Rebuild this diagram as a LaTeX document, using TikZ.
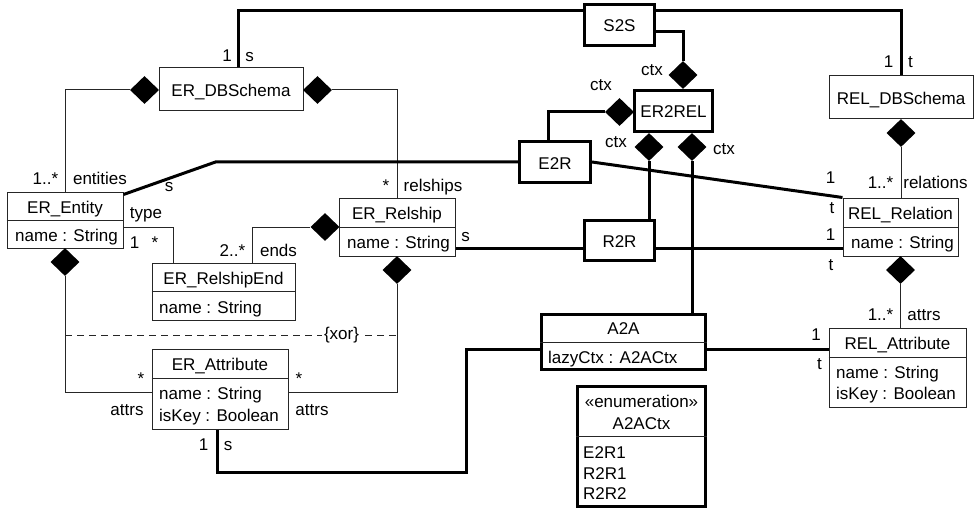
\documentclass[tikz,border=0pt]{standalone}
\usepackage{fontspec}
\setmainfont{Liberation Sans}
\usetikzlibrary{shapes.geometric}
\begin{document}
\begin{tikzpicture}[x=1pt,y=-1pt,
  every node/.style={font=\fontsize{17}{20}\selectfont},
  thin line/.style={draw=black!85, line width=1pt},
  thick line/.style={draw=black, line width=3pt},
  cls/.style={thin line, rectangle, inner sep=0pt, text height=14pt, text depth=0pt},
  trafo/.style={thick line, rectangle, inner sep=0pt, text height=14pt, text depth=0pt},
  comp/.style={diamond, fill=black, draw=none, inner sep=0pt, minimum width=29pt, minimum height=28pt},
  lbl/.style={inner sep=0pt, anchor=base},
  row/.style={inner sep=0pt, text height=14pt, text depth=0pt},
  attr/.style={inner sep=0pt, anchor=base west},
  conn/.style={thin line},
  tconn/.style={thick line},
]
\useasboundingbox (0,0) rectangle (976,513);

% ---------- ER metamodel classes ----------
\node[cls, minimum width=144pt, minimum height=43pt] (erdb) at (231,89.5) {ER\_DBSchema};
\node[cls, minimum width=116pt, minimum height=56pt] (erent) at (65,220) {};
\node[cls, minimum width=143pt, minimum height=57pt] (relend) at (223.5,291.5) {};
\node[cls, minimum width=116pt, minimum height=58pt] (relship) at (397,227) {};
\node[cls, minimum width=136pt, minimum height=80pt] (erattr) at (220,389) {};

% ---------- REL metamodel classes ----------
\node[cls, minimum width=144pt, minimum height=43pt] (reldb) at (901,97.5) {REL\_DBSchema};
\node[cls, minimum width=115pt, minimum height=58pt] (relrel) at (900.5,227) {};
\node[cls, minimum width=137pt, minimum height=79pt] (relattr) at (897.5,367.5) {};

% ---------- transformation classes ----------
\node[trafo, minimum width=70pt, minimum height=41pt] (s2s) at (619.5,25) {S2S};
\node[trafo, minimum width=78pt, minimum height=41pt] (er2rel) at (673.5,111) {ER2REL};
\node[trafo, minimum width=71pt, minimum height=41pt] (e2r) at (555,162) {E2R};
\node[trafo, minimum width=70pt, minimum height=40pt] (r2r) at (619.5,240.5) {R2R};
\node[trafo, minimum width=164pt, minimum height=55pt] (a2a) at (623.5,342) {};
\node[trafo, minimum width=128pt, minimum height=120pt] (enum) at (641.5,446.5) {};

% ---------- compartment dividers ----------
\draw[conn] (erent.west) -- (erent.east);
\draw[conn] (relend.west) -- (relend.east);
\draw[conn] (relship.west) -- (relship.east);
\draw[conn] ([yshift=11pt]erattr.west) -- ([yshift=11pt]erattr.east);
\draw[conn] (relrel.west) -- (relrel.east);
\draw[conn] ([yshift=10.5pt]relattr.west) -- ([yshift=10.5pt]relattr.east);
\draw[conn] (a2a.west) -- (a2a.east);
\draw[conn] ([yshift=10.5pt]enum.west) -- ([yshift=10.5pt]enum.east);

% ---------- class names and attributes ----------
\node[row] (erentT) at (65,206) {ER\_Entity};
\node[row, anchor=west] (erentA) at (15,234) {name : String};
\node[row] (relendT) at (223.5,277.5) {ER\_RelshipEnd};
\node[row, anchor=west] (relendA) at (159,306) {name : String};
\node[row] (relshipT) at (397,212.5) {ER\_Relship};
\node[row, anchor=west] (relshipA) at (347,241.5) {name : String};
\node[row] (erattrT) at (220,363.5) {ER\_Attribute};
\node[attr] (erattrA) at (159,399.5) {name : String};
\node[attr] (erattrB) at (159,421) {isKey : Boolean};
\node[row] (relrelT) at (900.5,212.5) {REL\_Relation};
\node[row, anchor=west] (relrelA) at (851,241.5) {name : String};
\node[row] (relattrT) at (897.5,342.5) {REL\_Attribute};
\node[attr] (relattrA) at (836,378) {name : String};
\node[attr] (relattrB) at (836,399) {isKey : Boolean};
\node[row] (a2aT) at (623.5,327.5) {A2A};
\node[row, anchor=west] (a2aA) at (548,356.5) {lazyCtx : A2ACtx};
\node[lbl] (enumS) at (641.5,407) {«enumeration»};
\node[lbl] (enumT) at (641.5,429) {A2ACtx};
\node[attr] (enumA) at (583,458.5) {E2R1};
\node[attr] (enumB) at (583,479) {R2R1};
\node[attr] (enumC) at (583,499) {R2R2};

% ---------- composition diamonds ----------
\node[comp] (dEL) at (144.5,90) {};
\node[comp] (dER) at (317.5,90) {};
\node[comp] (dRL) at (325,227) {};
\node[comp] (dEB) at (65,262) {};
\node[comp] (dSB) at (397,270) {};
\node[comp] (dRD) at (901,133) {};
\node[comp] (dRB) at (900.5,270) {};
\node[comp] (dT) at (683,75) {};
\node[comp] (dL) at (619.5,112) {};
\node[comp] (dB1) at (649,147) {};
\node[comp] (dB2) at (692,147) {};

% ---------- ER / REL associations ----------
\draw[conn] (dEL.west) -| (erent.north);
\draw[conn] (dER.east) -| (relship.north);
\draw[conn] (dRD.south) -- (dRD.south |- relrel.north);
\draw[conn] ([yshift=-7pt]erent.east) -| ([xshift=-50.5pt]relend.north);
\draw[conn] ([xshift=28.5pt]relend.north) |- (dRL.west);
\draw[conn] (dEB.south) |- ([yshift=-3pt]erattr.west);
\draw[conn] (dSB.south) |- ([yshift=-3pt]erattr.east);
\draw[conn] (dRB.south) -- (dRB.south |- relattr.north);
\coordinate (xorL) at (65,335);
\coordinate (xorR) at (397,335);
\draw[conn, dash pattern=on 7pt off 5pt] (xorL) -- (xorR);
\node[lbl, fill=white, inner sep=2pt] (xor) at (341.5,339.5) {\{xor\}};

% ---------- transformation links ----------
\draw[tconn] ([xshift=7pt]erdb.north) |- ([yshift=14pt]s2s.west);
\draw[tconn] ([yshift=14pt]s2s.east) -| (reldb.north);
\draw[tconn] ([yshift=-7pt]s2s.east) -| (dT.north);
\draw[tconn] (dL.west) -| ([xshift=-7pt]e2r.north);
\draw[tconn] (dB1.south) -- (dB1.south |- r2r.north);
\draw[tconn] (dB2.south) -- (dB2.south |- a2a.north);
\draw[tconn] (e2r.west) -- ++(-302.5,0) -- ([yshift=-3pt]erent.north east);
\draw[tconn] (e2r.east) -- (relrel.north west);
\draw[tconn] ([yshift=-8pt]r2r.west) -- ([yshift=-8pt]r2r.west -| relship.east);
\draw[tconn] ([yshift=-8pt]r2r.east) -- ([yshift=-8pt]r2r.east -| relrel.west);
\draw[tconn] ([yshift=-7pt]a2a.west) -| ++(-73.5,123) -| ([xshift=-3pt]erattr.south);
\draw[tconn] ([yshift=-7pt]a2a.east) -- ([yshift=-7pt]a2a.east -| relattr.west);

% ---------- role names and multiplicities ----------
\node[lbl] (l1) at (227,62) {1};
\node[lbl] (l2) at (249.5,62) {s};
\node[lbl] (l3) at (888.5,68) {1};
\node[lbl] (l4) at (910.5,68) {t};
\node[lbl] (l5) at (652,76) {ctx};
\node[lbl] (l6) at (601,91) {ctx};
\node[lbl] (l7) at (616,148) {ctx};
\node[lbl] (l8) at (724,155) {ctx};
\node[lbl] (l9) at (45.5,185) {1..*};
\node[lbl] (l10) at (100,185) {entities};
\node[lbl] (l11) at (169,191) {s};
\node[lbl] (l12) at (386,191) {*};
\node[lbl] (l13) at (433,191) {relships};
\node[lbl] (l14) at (146,218) {type};
\node[lbl] (l15) at (134.5,248) {1};
\node[lbl] (l16) at (155,248) {*};
\node[lbl] (l17) at (232.5,256) {2..*};
\node[lbl] (l18) at (278.5,256) {ends};
\node[lbl] (l19) at (465.5,241.5) {s};
\node[lbl] (l20) at (830.5,183) {1};
\node[lbl] (l21) at (832,213) {t};
\node[lbl] (l22) at (830.5,240) {1};
\node[lbl] (l23) at (831,270) {t};
\node[lbl] (l24) at (880.5,188) {1..*};
\node[lbl] (l25) at (935.5,188) {relations};
\node[lbl] (l26) at (880.5,320) {1..*};
\node[lbl] (l27) at (924,320) {attrs};
\node[lbl] (l28) at (816,340) {1};
\node[lbl] (l29) at (819.5,369) {t};
\node[lbl] (l30) at (141,384) {*};
\node[lbl] (l31) at (299,384) {*};
\node[lbl] (l32) at (127,415) {attrs};
\node[lbl] (l33) at (312,415) {attrs};
\node[lbl] (l34) at (203.5,450) {1};
\node[lbl] (l35) at (228,450) {s};
\end{tikzpicture}
\end{document}
